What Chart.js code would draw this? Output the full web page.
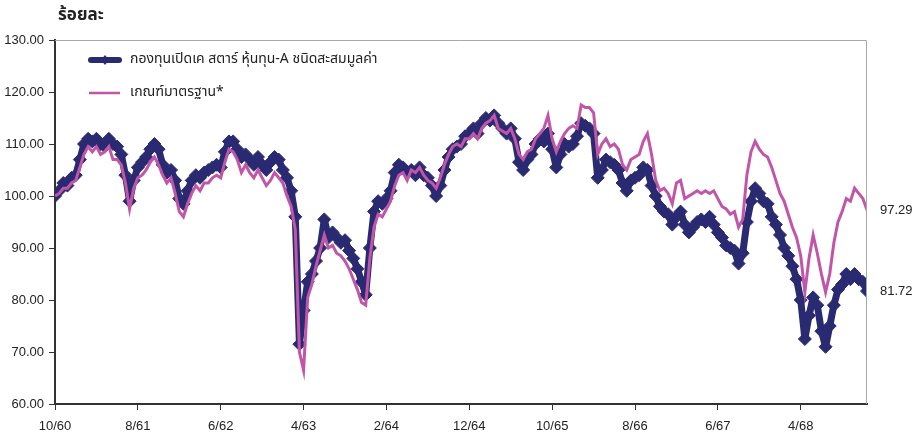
<!DOCTYPE html>
<html>
<head>
<meta charset="utf-8">
<script src="https://cdn.jsdelivr.net/npm/chart.js@4.4.1/dist/chart.umd.min.js"></script>
<style>
  body { margin: 0; background: #fff; }
  #wrap { width: 916px; height: 438px; }
</style>
</head>
<body>
<div id="wrap"><canvas id="myChart" width="916" height="438"></canvas></div>
<script>
// two readings per month, starting 10/60
const fund = [
    100,101,102.5,102,103.5,104,107,110,111,110.5,
    111,110,109.5,111,110,109.5,108,104,99,103,
    105.5,106.5,107.5,109,110,109,106,104.5,105,103,
    99.5,98.5,101,103,104,103.5,104.5,105,105.5,106,
    105.5,108.5,110.5,110.5,109,107.5,108,107,106,107.5,
    106,105,106.5,107.5,107,105,103.5,101,96,71.5,
    78,83.5,85,87.5,90,95.5,92,93,92,91,
    91.5,89.5,88,86,83.5,81,90,97,99,98.5,
    99.5,101,104.5,106,105.5,104.5,105,104,105.5,104,
    103.5,102,100,102,105,107.5,109,109.5,110,111.5,
    112,113,112,114,115,114.5,115.5,114,113,112,
    113,111,106.5,105,107,108,110,111,110.5,112,
    109,105.5,108,110,109.5,110,111.5,114,113.5,113,
    112,103.5,105,107,106.5,106,105,102.5,101,103,
    103.5,104,105.5,105,102,100,98,97,96.5,94.5,
    96,97,94.5,93,94,95,95.5,95,96,94.5,
    93,92,90.5,90,89.5,87,89,95,99,101.5,
    100.5,99,98.5,96,94.5,92.5,90,88.5,86.5,84,
    80,72.5,77,80.5,79,74,71,75,79,82,
    83,85,84,85,84,83.5,81.72
]
const bench = [
    100,100.5,101.5,101.5,102.5,103,105.5,108,109.5,108.5,
    109.5,108,108.5,109.5,107,107,106,102.5,97.5,101.5,
    103.5,104,105,106.5,107.5,106,104,102.5,103.5,100.5,
    97,96,98.5,100.5,102,101,102.5,102.5,103.5,104,
    103.5,106.5,109,108.5,107,104.5,106,104.5,103.5,105,
    103.5,102,103,104.5,103.5,102.5,100,98,93.5,70,
    66.5,80.5,83,86.5,89.5,92.5,90,90.5,89,88.5,
    87.5,86,84,82,79.5,79,88,94,96.5,96,
    97.5,99,102,104,104.5,103,105,104.5,105.5,104,
    103,102.5,101.5,103.5,106,108,109.5,110,109.5,111,
    111,112,111,113,114,114.5,115.5,113,112.5,112,
    113,111,108,107,108.5,109,111,112,113,115.5,
    111,108.5,110.5,112,113,113.5,113,117.5,117,117,
    116,108,110,111,109.5,110,109,106,105,107,
    107.5,108,110.5,112,108,103,101,101.5,100.5,98.5,
    102.5,103,99.5,100,100.5,101,100.5,101,100.5,101,
    99.5,98,97.5,96.5,97,94,95.5,104,108.5,110.5,
    109,108,107.5,105.5,103,100.5,99,96.5,94,92,
    88.5,81.5,88,92.5,89,85,81.5,85,91,95,
    97,99.5,99,101.5,100.5,99.5,97.29
]
const xLabels = ['10/60','8/61','6/62','4/63','2/64','12/64','10/65','8/66','6/67','4/68']
const seriesNames = ['กองทุนเปิดเค สตาร์ หุ้นทุน-A ชนิดสะสมมูลค่า', 'เกณฑ์มาตรฐาน*']

const navy = '#2a2a73'
const pink = '#c156a9'
const thaiFont = '"Noto Sans Thai", "Noto Sans", "DejaVu Sans", sans-serif'
const numFont = '"Liberation Sans Narrow", "Liberation Sans", sans-serif'

const toPoints = (arr) => arr.map((v, i) => ({ x: i / 2, y: v }))

const decor = {
    id: 'decor',
    afterDraw(chart) {
        const { ctx, chartArea: a, scales } = chart
        ctx.save()
        // top/right frame
        ctx.strokeStyle = '#a8a8a8'
        ctx.lineWidth = 1
        ctx.beginPath()
        ctx.moveTo(a.left, a.top + 0.5)
        ctx.lineTo(a.right - 0.5, a.top + 0.5)
        ctx.lineTo(a.right - 0.5, a.bottom)
        ctx.stroke()

        // title
        ctx.fillStyle = '#222'
        ctx.font = 'bold 17px ' + thaiFont
        ctx.textBaseline = 'middle'
        ctx.textAlign = 'left'
        ctx.fillText('ร้อยละ', 58, 17)

        // legend
        ctx.lineCap = 'round'
        ctx.strokeStyle = navy
        ctx.lineWidth = 6
        ctx.beginPath(); ctx.moveTo(91, 60); ctx.lineTo(119, 60); ctx.stroke()
        ctx.fillStyle = navy
        ctx.beginPath()
        ctx.moveTo(105, 55); ctx.lineTo(109, 60); ctx.lineTo(105, 65); ctx.lineTo(101, 60)
        ctx.closePath(); ctx.fill()
        ctx.strokeStyle = pink
        ctx.lineWidth = 2.5
        ctx.lineCap = 'butt'
        ctx.beginPath(); ctx.moveTo(89, 93); ctx.lineTo(120, 93); ctx.stroke()
        ctx.fillStyle = '#222'
        ctx.font = '14px ' + thaiFont
        ctx.fillText(seriesNames[0], 130, 60)
        ctx.fillText(seriesNames[1], 130, 93)

        // end values
        ctx.font = '13px ' + numFont
        const y = scales.y
        ctx.fillText(bench[bench.length - 1].toFixed(2), 880, y.getPixelForValue(bench[bench.length - 1]))
        ctx.fillText(fund[fund.length - 1].toFixed(2), 880, y.getPixelForValue(fund[fund.length - 1]))
        ctx.restore()
    }
}

new Chart(document.getElementById('myChart'), {
    type: 'line',
    data: {
        datasets: [{
            label: seriesNames[0],
            data: toPoints(fund),
            borderColor: navy,
            backgroundColor: navy,
            borderWidth: 7,
            borderJoinStyle: 'round',
            pointStyle: 'rectRot',
            pointRadius: 6.5,
            pointBorderWidth: 1,
            pointBackgroundColor: navy,
            pointBorderColor: navy,
            tension: 0,
            order: 2,
        }, {
            label: seriesNames[1],
            data: toPoints(bench),
            borderColor: pink,
            backgroundColor: pink,
            borderWidth: 3,
            pointRadius: 0,
            tension: 0,
            order: 1,
        }],
    },
    options: {
        responsive: false,
        animation: false,
        layout: { padding: { top: 40, right: 49, left: 0, bottom: 0 } },
        plugins: { legend: { display: false }, tooltip: { enabled: false } },
        scales: {
            x: {
                type: 'linear',
                min: 0,
                max: 98,
                afterBuildTicks: (s) => { s.ticks = xLabels.map((l, i) => ({ value: i * 10 })) },
                afterFit: (s) => { s.height = 34 },
                grid: { drawOnChartArea: false, tickLength: 6, color: '#333' },
                border: { color: '#333', width: 2 },
                ticks: {
                    autoSkip: false,
                    maxRotation: 0,
                    padding: 9,
                    color: '#222',
                    font: { family: numFont, size: 13 },
                    callback: (v) => xLabels[Math.round(v / 10)] ?? '',
                },
            },
            y: {
                min: 60,
                max: 130,
                afterFit: (s) => { s.width = 55 },
                grid: { drawOnChartArea: false, tickLength: 6, color: '#333' },
                border: { color: '#333', width: 2 },
                ticks: {
                    stepSize: 10,
                    padding: 5,
                    color: '#222',
                    font: { family: numFont, size: 13 },
                    callback: (v) => v.toFixed(2),
                },
            },
        },
    },
    plugins: [decor],
})
</script>
</body>
</html>
